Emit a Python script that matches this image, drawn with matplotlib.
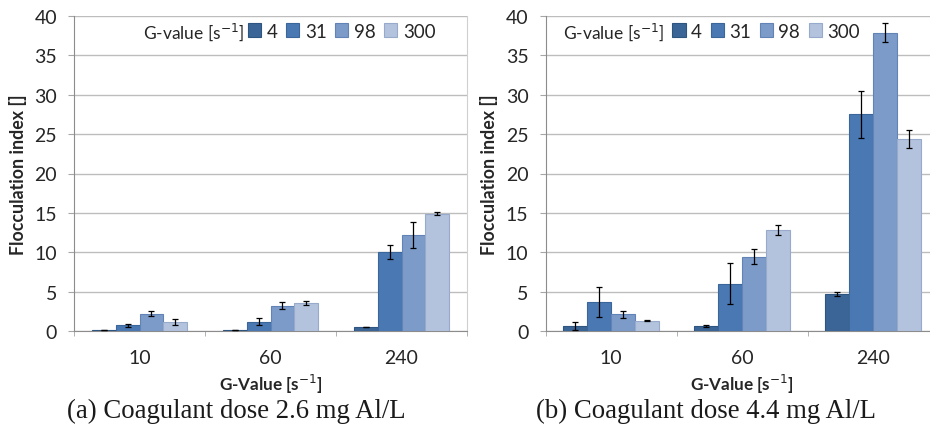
import numpy as np
import matplotlib.pyplot as plt

# data
times = ["10", "60", "240"]
g_values = ["4", "31", "98", "300"]

fi_26 = [
    [0.1, 0.7, 2.2, 1.1],
    [0.1, 1.2, 3.2, 3.6],
    [0.5, 10.0, 12.2, 14.9],
]
err_26 = [
    [0.03, 0.2, 0.35, 0.4],
    [0.03, 0.5, 0.45, 0.25],
    [0.05, 0.9, 1.7, 0.15],
]
fi_44 = [
    [0.6, 3.7, 2.1, 1.3],
    [0.6, 6.0, 9.4, 12.8],
    [4.7, 27.5, 37.9, 24.4],
]
err_44 = [
    [0.5, 1.95, 0.42, 0.05],
    [0.15, 2.6, 0.95, 0.65],
    [0.22, 3.0, 1.2, 1.15],
]
captions = ["(a) Coagulant dose 2.6 mg Al/L", "(b) Coagulant dose 4.4 mg Al/L"]

colors = ["#3A6596", "#4A78B3", "#7C9BC9", "#B3C3DE"]
edges = ["#2E5480", "#3B6699", "#6283B5", "#97AACB"]
grid_c = "#BDBDBD"
txt_c = "#262626"
font = "Lato"

fig = plt.figure(figsize=(9.3, 4.27), dpi=100)
ax_l = fig.add_axes([74 / 930, 95 / 427, 393 / 930, 315 / 427])
ax_r = fig.add_axes([545.5 / 930, 95 / 427, 393 / 930, 315 / 427])

bar_w = 0.183
offsets = (np.arange(4) - 1.5) * bar_w
x = np.arange(len(times))

# (axes, values, errors, caption, legend-title x, legend-entries x, caption centre px)
panels = [
    (ax_l, fi_26, err_26, captions[0], 0.175, 0.443, 236),
    (ax_r, fi_44, err_44, captions[1], 0.045, 0.323, 706),
]

for ax, vals, errs, cap, tx, lx, cx in panels:
    vals = np.array(vals)
    errs = np.array(errs)
    handles = []
    for j in range(len(g_values)):
        b = ax.bar(x + offsets[j], vals[:, j], width=bar_w, color=colors[j],
                   edgecolor=edges[j], linewidth=0.8, zorder=3)
        ax.errorbar(x + offsets[j], vals[:, j], yerr=errs[:, j], fmt="none",
                    ecolor="black", elinewidth=0.9, capsize=2.5, capthick=0.9, zorder=4)
        handles.append(b)

    ax.set_xlim(-0.5, 2.5)
    ax.set_ylim(0, 40)
    ax.set_yticks(range(0, 41, 5))
    ax.yaxis.grid(True, color=grid_c, linewidth=1.0, zorder=0)
    ax.set_axisbelow(True)

    ax.set_xticks(x)
    ax.set_xticklabels(times)
    ax.set_xticks([-0.5, 0.5, 1.5, 2.5], minor=True)
    ax.tick_params(axis="x", which="major", length=0, pad=13, labelsize=14, labelcolor=txt_c)
    ax.tick_params(axis="x", which="minor", length=3.6, color="#A6A6A6", direction="out")
    ax.tick_params(axis="y", length=4.3, color="#A6A6A6", labelsize=14, labelcolor=txt_c, pad=8)
    for lab in ax.get_xticklabels() + ax.get_yticklabels():
        lab.set_fontfamily(font)

    ax.spines["top"].set_visible(False)
    ax.spines["right"].set_color("#D0D0D0")
    ax.spines["left"].set_color("#8C8C8C")
    ax.spines["bottom"].set_color("#8C8C8C")

    ax.set_ylabel("Flocculation index []", fontsize=12.8, fontweight="bold",
                  family=font, color=txt_c)
    ax.yaxis.set_label_coords(-0.12, 0.5)
    ax.set_xlabel("G-Value [s$^{-1}$]", fontsize=12.3, fontweight="bold",
                  family=font, color=txt_c, labelpad=4)

    ax.text(tx, 0.952, "G-value [s$^{-1}$]", transform=ax.transAxes, ha="left",
            va="center", family=font, fontsize=12.5, color=txt_c)
    leg = ax.legend(handles, g_values, ncol=4, loc="center left",
                    bbox_to_anchor=(lx, 0.952), frameon=False,
                    handlelength=0.7, handleheight=0.7, handletextpad=0.3,
                    columnspacing=0.45, borderaxespad=0, borderpad=0,
                    prop={"family": font, "size": 13.5})
    for t in leg.get_texts():
        t.set_color(txt_c)

    fig.text(cx / 930, 9 / 427, cap, ha="center", va="baseline",
             family="Liberation Serif", fontsize=19.3, color="#1a1a1a")

fig.savefig("out.png", dpi=100)
